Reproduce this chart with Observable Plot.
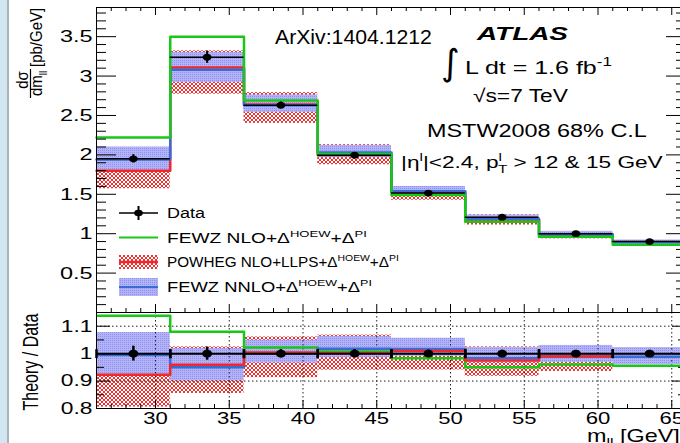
<!DOCTYPE html>
<html><head><meta charset="utf-8">
<script src="https://cdn.jsdelivr.net/npm/d3@7"></script>
<script src="https://cdn.jsdelivr.net/npm/@observablehq/plot@0.6"></script>
<style>
html,body{margin:0;padding:0;background:#fff;overflow:hidden;}
#wrap{position:relative;width:680px;height:443px;overflow:hidden;background:#fff;}
#wrap svg{position:absolute;left:0;}
#strip{position:absolute;left:0;top:0;width:7px;height:443px;background:#d2e6f1;border-right:2px solid #a7b3ba;}
</style></head><body>
<svg width="0" height="0" style="position:absolute">
  <defs>
    <pattern id="redHatch" width="4" height="4" patternUnits="userSpaceOnUse">
      <g fill="#ea3434" shape-rendering="crispEdges">
        <rect x="0" y="0" width="1" height="1"/><rect x="3" y="0" width="1" height="1"/>
        <rect x="1" y="1" width="2" height="1"/>
        <rect x="1" y="2" width="2" height="1"/>
        <rect x="0" y="3" width="1" height="1"/><rect x="3" y="3" width="1" height="1"/>
      </g>
    </pattern>
    <pattern id="blueDots" width="2" height="2" patternUnits="userSpaceOnUse">
      <rect width="2" height="2" fill="#b3b3f8"/>
      <rect width="1" height="1" fill="#8f8ff0"/>
    </pattern>
  </defs>
</svg>
<div id="wrap"><div id="strip"></div></div>
<script>
// ---------------- data ----------------
const binLo = [26, 31, 36, 41, 46, 51, 56, 61];
const binHi = [31, 36, 41, 46, 51, 56, 61, 66];
const dataVal = [1.95, 3.24, 2.63, 1.995, 1.515, 1.21, 1.0, 0.90];
const dataErr = [0.053, 0.078, 0.04, 0.03, 0.02, 0.015, 0.012, 0.011];
const fewzNLO = [2.22, 3.50, 2.69, 2.01, 1.49, 1.15, 0.96, 0.86];
const powheg = [1.80, 3.11, 2.64, 2.00, 1.53, 1.18, 0.99];
const powhegLo = [1.57, 2.77, 2.40, 1.875, 1.425, 1.11, 0.935];
const powhegHi = [2.03, 3.32, 2.79, 2.13, 1.58, 1.24, 1.02];
const fewzNNLO = [1.94, 3.08, 2.63, 2.03, 1.54, 1.19, 0.99, 0.89];
const nnloLo = [1.79, 2.92, 2.54, 1.965, 1.50, 1.17, 0.968, 0.864];
const nnloHi = [2.10, 3.30, 2.76, 2.12, 1.60, 1.237, 1.03, 0.92];

const yMainLabels = [0.5, 1, 1.5, 2, 2.5, 3, 3.5];
const yRatioLabels = [0.8, 0.9, 1, 1.1];
const xLabels = [30, 35, 40, 45, 50, 55, 60, 65];
const legendLabels = ["Data", "FEWZ NLO+Δ", "POWHEG NLO+LLPS+Δ", "FEWZ NNLO+Δ"];

// ---------------- style ----------------
const FONT = '"Liberation Sans", Arial, Helvetica, sans-serif';
const RED = "#f0282a", GREEN = "#18c818", BLUE = "#3a6cd6";
const wrap = document.getElementById("wrap");

const rows = binLo.map((lo, i) => ({
  lo, hi: binHi[i], mid: (lo + binHi[i]) / 2, data: dataVal[i], err: dataErr[i],
  nlo: fewzNLO[i], pw: powheg[i], pwLo: powhegLo[i], pwHi: powhegHi[i],
  nnlo: fewzNNLO[i], nnLo: nnloLo[i], nnHi: nnloHi[i]
}));
const pwRows = rows.filter(r => r.pw != null);
function steps(rs, f) {
  const pts = rs.map(r => ({x: r.lo, y: f(r)}));
  const last = rs[rs.length - 1];
  pts.push({x: last.hi, y: f(last)});
  return pts;
}
const ellipse = {draw(ctx, size) {
  const r = Math.sqrt(size / Math.PI), rx = r * 1.3, ry = r, k = 0.5523;
  ctx.moveTo(rx, 0);
  ctx.bezierCurveTo(rx, ry * k, rx * k, ry, 0, ry);
  ctx.bezierCurveTo(-rx * k, ry, -rx, ry * k, -rx, 0);
  ctx.bezierCurveTo(-rx, -ry * k, -rx * k, -ry, 0, -ry);
  ctx.bezierCurveTo(rx * k, -ry, rx, -ry * k, rx, 0);
  ctx.closePath();
}};
const vbar = {draw(ctx, size) { const r = Math.sqrt(size / Math.PI); ctx.moveTo(0, -r); ctx.lineTo(0, r); }};

const W = 700, ML = 96, MR = 14, PW = W - ML - MR;
const xMajor = d3.range(30, 66, 5);
const xMinor = d3.range(26, 67, 1).filter(v => v % 5 !== 0);
const yMainMajor = d3.range(0, 3.9, 0.5);
const yMainMinor = d3.range(0, 3.87, 0.1).filter(v => Math.abs(v * 2 - Math.round(v * 2)) > 0.01);
const yRatioMajor = [0.8, 0.9, 1.0, 1.1];
const yRatioMinor = [0.85, 0.95, 1.05, 1.15];

function frameTicks(ph, yMaj, yMin, majLen, minLen, xTop) {
  const m = [
    Plot.tickY(yMaj, {y: d => d, insetRight: PW - majLen, stroke: "black"}),
    Plot.tickY(yMaj, {y: d => d, insetLeft: PW - majLen, stroke: "black"}),
    Plot.tickY(yMin, {y: d => d, insetRight: PW - minLen, stroke: "black"}),
    Plot.tickY(yMin, {y: d => d, insetLeft: PW - minLen, stroke: "black"}),
    Plot.tickX(xMajor, {x: d => d, insetTop: ph - 8, stroke: "black"}),
    Plot.tickX(xMinor, {x: d => d, insetTop: ph - 4, stroke: "black"})
  ];
  if (xTop) m.push(
    Plot.tickX(xMajor, {x: d => d, insetBottom: ph - 8, stroke: "black"}),
    Plot.tickX(xMinor, {x: d => d, insetBottom: ph - 4, stroke: "black"}));
  return m;
}

// ---------------- main panel ----------------
const MAIN_PH = 305;
const mainPlot = Plot.plot({
  width: W, height: 313, marginTop: 7, marginBottom: 1, marginLeft: ML, marginRight: MR,
  style: {fontFamily: FONT, maxWidth: "none", overflow: "visible", background: "transparent", color: "black"},
  x: {domain: [26, 66], axis: null},
  y: {domain: [0, 3.87]},
  marks: [
    Plot.rect(pwRows, {x1: "lo", x2: "hi", y1: "pwLo", y2: "pwHi", fill: "url(#redHatch)"}),
    Plot.rect(rows, {x1: "lo", x2: "hi", y1: "nnLo", y2: "nnHi", fill: "url(#blueDots)"}),
    Plot.line(steps(pwRows, r => r.pw), {x: "x", y: "y", curve: "step-after", stroke: RED, strokeWidth: 2.5}),
    Plot.line(steps(rows, r => r.nnlo), {x: "x", y: "y", curve: "step-after", stroke: BLUE, strokeWidth: 2.5}),
    Plot.line(steps(rows, r => r.nlo), {x: "x", y: "y", curve: "step-after", stroke: GREEN, strokeWidth: 2.5}),
    Plot.ruleY(rows, {x1: "lo", x2: "hi", y: "data", stroke: "black", strokeWidth: 1.5}),
    Plot.ruleX(rows, {x: "mid", y1: r => r.data - r.err, y2: r => r.data + r.err, stroke: "black", strokeWidth: 2}),
    Plot.dot(rows, {x: "mid", y: "data", r: 3.4, fill: "black", symbol: ellipse}),
    ...frameTicks(MAIN_PH, yMainMajor, yMainMinor, 20, 10, true),
    Plot.frame({stroke: "black"}),
    Plot.axisY(yMainLabels, {anchor: "left", tickSize: 0, tickPadding: 4, fontSize: 17, label: null, tickFormat: d => String(d)})
  ]
});
mainPlot.style.top = "0px";
wrap.appendChild(mainPlot);

// ---------------- ratio panel ----------------
const R_PH = 96;
const ratioPlot = Plot.plot({
  width: W, height: 131, marginTop: 0, marginBottom: 35, marginLeft: ML, marginRight: MR,
  style: {fontFamily: FONT, maxWidth: "none", overflow: "visible", background: "transparent", color: "black"},
  x: {domain: [26, 66]},
  y: {domain: [0.8, 1.15]},
  marks: [
    Plot.rect(pwRows, {x1: "lo", x2: "hi", y1: r => r.pwLo / r.data, y2: r => r.pwHi / r.data, fill: "url(#redHatch)", clip: true}),
    Plot.rect(rows, {x1: "lo", x2: "hi", y1: r => r.nnLo / r.data, y2: r => r.nnHi / r.data, fill: "url(#blueDots)", clip: true}),
    Plot.ruleY([0.9, 1.0, 1.1], {y: d => d, stroke: "#222", strokeDasharray: "1.5,2.5"}),
    Plot.ruleX(xMajor, {x: d => d, stroke: "#222", strokeDasharray: "1.5,2.5"}),
    Plot.line(steps(rows, r => r.nlo / r.data), {x: "x", y: "y", curve: "step-after", stroke: GREEN, strokeWidth: 2.5, clip: true}),
    Plot.line(steps(rows, r => r.nnlo / r.data), {x: "x", y: "y", curve: "step-after", stroke: BLUE, strokeWidth: 2.5, clip: true}),
    Plot.line(steps(pwRows, r => r.pw / r.data), {x: "x", y: "y", curve: "step-after", stroke: RED, strokeWidth: 2.5, clip: true}),
    Plot.ruleY(rows, {x1: "lo", x2: "hi", y: () => 1, stroke: "black", strokeWidth: 2}),
    Plot.dot(rows.flatMap(r => [r.lo, r.hi]), {x: d => d, y: () => 1, r: 4.5, symbol: vbar, stroke: "black", strokeWidth: 2.5, fill: "none"}),
    Plot.ruleX(rows, {x: "mid", y1: r => 1 - r.err / r.data, y2: r => 1 + r.err / r.data, stroke: "black", strokeWidth: 2.5}),
    Plot.dot(rows, {x: "mid", y: () => 1, r: 3.8, fill: "black", symbol: ellipse}),
    ...frameTicks(R_PH, yRatioMajor, yRatioMinor, 14, 8, false),
    Plot.frame({stroke: "black"}),
    Plot.axisY(yRatioLabels, {anchor: "left", tickSize: 0, tickPadding: 4, fontSize: 16.5, label: null, tickFormat: d => String(d)}),
    Plot.axisX(xLabels, {anchor: "bottom", tickSize: 0, tickPadding: 4, fontSize: 16, label: null, tickFormat: d => String(d)})
  ]
});
ratioPlot.style.top = "312px";
wrap.appendChild(ratioPlot);

// stretch tick labels horizontally (reference text is wide)
function stretchTickLabels(svg, k) {
  svg.querySelectorAll('g[aria-label$="tick label"] text').forEach(t => {
    const tr = t.getAttribute("transform");
    if (tr && tr.includes("translate")) t.setAttribute("transform", tr + ` scale(${k},1)`);
    else {
      const w = t.getComputedTextLength();
      t.setAttribute("textLength", w * k);
      t.setAttribute("lengthAdjust", "spacingAndGlyphs");
    }
  });
}
stretchTickLabels(mainPlot, 1.38);
stretchTickLabels(ratioPlot, 1.38);

// ---------------- annotations & legend ----------------
const ann = d3.select(wrap).append("svg")
  .attr("width", 680).attr("height", 443)
  .style("position", "absolute").style("left", "0px").style("top", "0px")
  .attr("font-family", FONT);

function label(x, y, parts, o) {
  const size = o.size;
  const t = ann.append("text").attr("font-size", size).attr("fill", "black")
    .attr("font-family", o.family || FONT)
    .attr("font-weight", o.weight || "normal").attr("font-style", o.style || "normal")
    .attr("text-anchor", o.anchor || "start")
    .attr("transform", `translate(${x},${y})`);
  let shift = 0;
  for (const p of parts) {
    const [s, kind, dx] = typeof p === "string" ? [p, ""] : p;
    const span = t.append("tspan").text(s);
    const target = kind === "sup" ? -0.42 * size : kind === "sub" ? 0.28 * size : 0;
    if (kind) span.attr("font-size", size * 0.68);
    span.attr("dy", target - shift);
    if (dx) span.attr("dx", dx);
    shift = target;
  }
  if (o.rotate) {
    t.attr("transform", `translate(${x},${y}) rotate(-90) scale(1,${o.k || 1})`);
  } else {
    const w = t.node().getComputedTextLength();
    const sx = o.target ? o.target / w : (o.k || 1);
    t.attr("transform", `translate(${x},${y}) scale(${sx},1)`);
  }
  return t;
}

// header texts
label(275, 44, ["ArXiv:1404.1212"], {size: 20, target: 157});
label(477, 40, ["ATLAS"], {size: 18.5, weight: "bold", style: "italic", target: 91});
label(441, 75, ["∫"], {size: 36, family: '"DejaVu Sans", sans-serif'});
label(465, 74, ["L dt = 1.6 fb", ["-1", "sup"]], {size: 19, target: 147});
label(473, 102, ["√s=7 TeV"], {size: 18.5, target: 95});
label(427, 137, ["MSTW2008 68% C.L"], {size: 17.5, target: 220});
label(401, 168, ["|η", ["l", "sup"], "|<2.4, p", ["l", "sup"], ["T", "sub", -3], " > 12 & 15 GeV"], {size: 16.5, target: 266});

// legend
const LX1 = 119, LX2 = 158, LC = 138.5, LT = 167;
const rowsY = [213, 237.5, 262, 287];
ann.append("line").attr("x1", LX1).attr("x2", LX2).attr("y1", rowsY[0]).attr("y2", rowsY[0]).attr("stroke", "black").attr("stroke-width", 1.5);
ann.append("line").attr("x1", LC).attr("x2", LC).attr("y1", rowsY[0] - 7).attr("y2", rowsY[0] + 7).attr("stroke", "black").attr("stroke-width", 2);
ann.append("ellipse").attr("cx", LC).attr("cy", rowsY[0]).attr("rx", 4.3).attr("ry", 3.3).attr("fill", "black");
ann.append("line").attr("x1", LX1).attr("x2", LX2).attr("y1", rowsY[1]).attr("y2", rowsY[1]).attr("stroke", GREEN).attr("stroke-width", 2);
ann.append("rect").attr("x", LX1).attr("y", rowsY[2] - 7).attr("width", LX2 - LX1).attr("height", 14).attr("fill", "url(#redHatch)");
ann.append("line").attr("x1", LX1).attr("x2", LX2).attr("y1", rowsY[2]).attr("y2", rowsY[2]).attr("stroke", RED).attr("stroke-width", 2.5);
ann.append("rect").attr("x", LX1).attr("y", rowsY[3] - 9).attr("width", LX2 - LX1).attr("height", 18).attr("fill", "url(#blueDots)");
ann.append("line").attr("x1", LX1).attr("x2", LX2).attr("y1", rowsY[3]).attr("y2", rowsY[3]).attr("stroke", BLUE).attr("stroke-width", 2);

label(LT, 218, [legendLabels[0]], {size: 14, target: 38});
label(LT, 242.5, [legendLabels[1], ["HOEW", "sup"], "+Δ", ["PI", "sup"]], {size: 14, target: 200});
label(LT, 267, [legendLabels[2], ["HOEW", "sup"], "+Δ", ["PI", "sup"]], {size: 14, target: 232});
label(LT, 292, [legendLabels[3], ["HOEW", "sup"], "+Δ", ["PI", "sup"]], {size: 14, target: 205});

// axis titles
label(41.5, 67, ["[pb/GeV]"], {size: 15, rotate: true, k: 1.1});
label(28, 80, ["dσ"], {size: 15, rotate: true, anchor: "middle", k: 1.1});
ann.append("line").attr("x1", 30.5).attr("x2", 30.5).attr("y1", 69).attr("y2", 98).attr("stroke", "black").attr("stroke-width", 1.2);
label(42, 96, ["dm", ["ll", "sub"]], {size: 15, rotate: true, k: 1.1});
label(38, 362, ["Theory / Data"], {size: 16, rotate: true, anchor: "middle", k: 1.35});
label(587, 442, ["m", ["ll", "sub"], " [GeV]"], {size: 18, k: 1.3});
</script>
</body></html>
